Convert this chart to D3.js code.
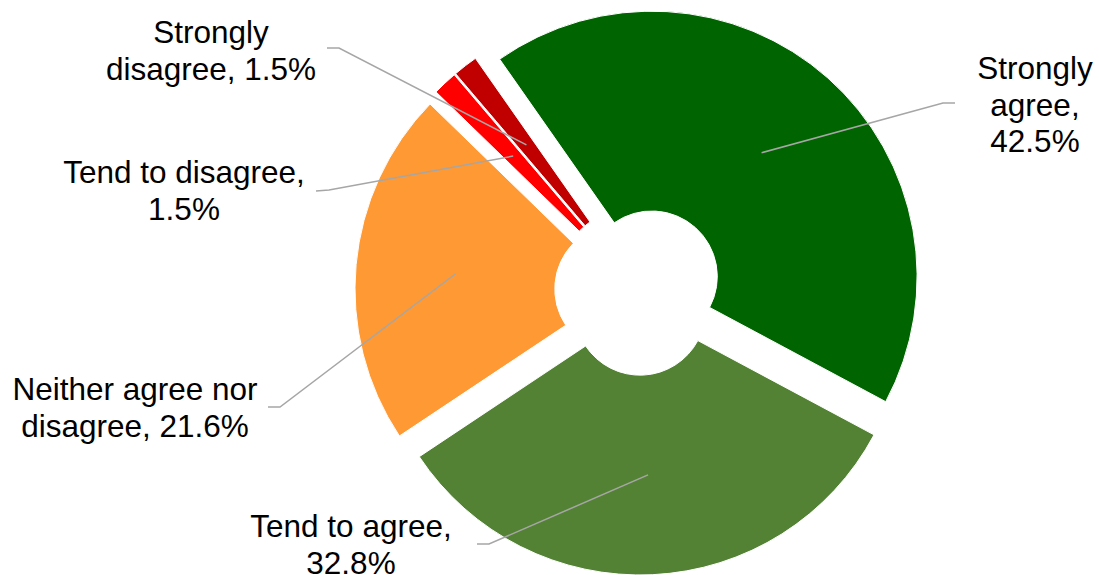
<!DOCTYPE html>
<html>
<head>
<meta charset="utf-8">
<script src="https://cdn.jsdelivr.net/npm/d3@7"></script>
<style>
    body { margin: 0; background: #fff; }
    svg { display: block; }
    text { font-family: "Liberation Sans", Arial, sans-serif; font-size: 31.5px; fill: #000; }
</style>
</head>
<body>
<div id="chart"></div>
<script>
// data
var categories = ["Strongly agree", "Tend to agree", "Neither agree nor disagree", "Tend to disagree", "Strongly disagree"];
var values = [42.5, 32.8, 21.6, 1.5, 1.5];
var colors = ["#006400", "#548235", "#ff9933", "#ff0000", "#c00000"];

// label layout: centre x, first baseline, words per line, leader start + elbow
var labelLayout = [
    { x: 1035, y: 79, split: [1, 1, 1], leader: [[955, 103], [943, 103]] },
    { x: 351, y: 537, split: [3, 1], leader: [[477, 544], [489, 544]] },
    { x: 135, y: 400, split: [3, 2], leader: [[268, 407], [280, 407]] },
    { x: 184, y: 183, split: [3, 1], leader: [[316, 191], [329, 190]] },
    { x: 211, y: 43, split: [1, 2], leader: [[327, 48], [339, 48]] }
];

(function() {
    var width = 1099,
        height = 575,
        cx = 639.2,
        cy = 290.7,
        outer = 265.3,
        inner = 65.5,
        explode = 19,
        lineHeight = 36.6;

    var svg = d3.select("#chart")
        .append("svg")
        .attr("width", width)
        .attr("height", height);

    var pie = d3.pie()
        .sort(null)
        .startAngle(-35 * Math.PI / 180)
        .endAngle(-35 * Math.PI / 180 + 2 * Math.PI);

    var arc = d3.arc()
        .innerRadius(inner)
        .outerRadius(outer);

    var arcs = pie(values);

    function offset(d) {
        var a = (d.startAngle + d.endAngle) / 2;
        return [cx + explode * Math.sin(a), cy - explode * Math.cos(a)];
    }

    var g = svg.append("g");

    g.selectAll(".slice")
        .data(arcs)
        .enter().append("path")
        .attr("class", "slice")
        .attr("transform", d => "translate(" + offset(d) + ")")
        .attr("d", arc)
        .attr("fill", (d, i) => colors[i])
        .attr("stroke", "#fff")
        .attr("stroke-width", 1);

    // leader lines
    g.selectAll(".leader")
        .data(arcs)
        .enter().append("polyline")
        .attr("class", "leader")
        .attr("fill", "none")
        .attr("stroke", "#a6a6a6")
        .attr("stroke-width", 1.5)
        .attr("points", (d, i) => {
            var o = offset(d),
                c = arc.centroid(d),
                l = labelLayout[i].leader;
            return [l[0], l[1], [o[0] + c[0], o[1] + c[1]]].map(p => p.join(",")).join(" ");
        });

    // labels
    arcs.forEach((d, i) => {
        var words = (categories[i] + ", " + values[i].toFixed(1) + "%").split(" "),
            lay = labelLayout[i],
            lines = [],
            k = 0;
        lay.split.forEach(n => {
            lines.push(words.slice(k, k + n).join(" "));
            k += n;
        });
        var t = svg.append("text")
            .attr("text-anchor", "middle");
        lines.forEach((s, j) => {
            t.append("tspan")
                .attr("x", lay.x)
                .attr("y", lay.y + j * lineHeight)
                .text(s);
        });
    });
})();
</script>
</body>
</html>
